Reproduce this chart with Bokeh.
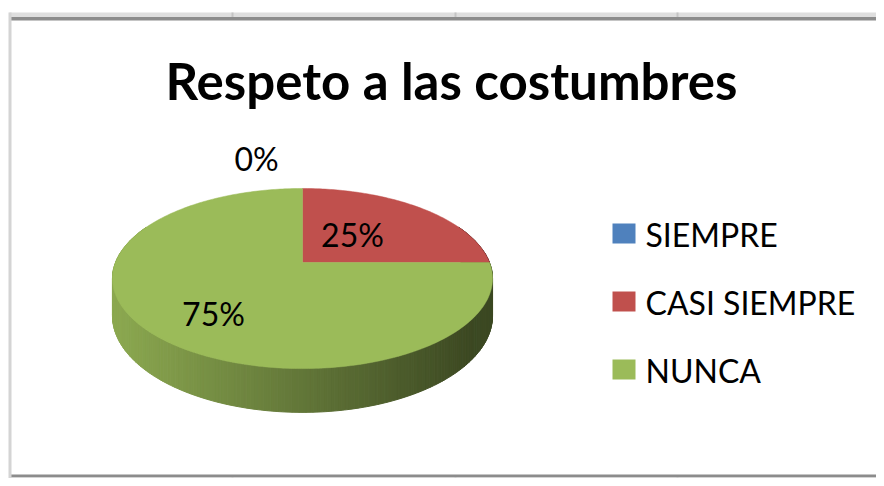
import numpy as np
from bokeh.plotting import figure
from bokeh.models import Range1d
from bokeh.core.properties import value
from bokeh.embed import file_html
from bokeh.resources import INLINE

# ---- data ----
title_text = "Respeto a las costumbres"
categories = ["SIEMPRE", "CASI SIEMPRE", "NUNCA"]
values = [0, 25, 75]
pct_labels = ["0%", "25%", "75%"]
colors = ["#4f81bd", "#c0504d", "#9bbb59"]

# ---- layout (pixel-like data coordinates) ----
W, H = 876, 478
p = figure(width=W, height=H, x_range=Range1d(0, W), y_range=Range1d(H, 0),
           output_backend="svg", toolbar_location=None, min_border=0,
           x_axis_location=None, y_axis_location=None)
p.grid.visible = False
p.outline_line_color = None
p.background_fill_color = "white"
p.border_fill_color = "white"

FONT = "Lato"
BASE_CORR = 0.37  # baseline correction (fraction of font size)

# spreadsheet-like frame
p.quad(left=[9], right=[W], top=[12], bottom=[16.5], fill_color="#dedede", line_color=None)
p.quad(left=[9], right=[W], top=[16.5], bottom=[20], fill_color="#8c8c8c", line_color=None)
p.quad(left=[9], right=[W], top=[474], bottom=[477], fill_color="#8c8c8c", line_color=None)
p.quad(left=[9], right=[W], top=[477], bottom=[H], fill_color="#e4e4e4", line_color=None)
p.quad(left=[8], right=[11], top=[12], bottom=[H], fill_color="#d4d4d4", line_color=None)
cols = [232, 455, 677]
p.quad(left=[c - 1 for c in cols], right=[c + 1 for c in cols], top=[12] * 3, bottom=[16.5] * 3,
       fill_color="#c4c4c4", line_color=None)
p.quad(left=[c - 1 for c in cols], right=[c + 1 for c in cols], top=[477] * 3, bottom=[H] * 3,
       fill_color="#c4c4c4", line_color=None)

# ---- 3D pie projection ----
CX, CY = 302.0, 262.0
B, A, K, D = 187.0, 87.2, 0.178, 36.0


def proj(u, v, drop=0.0):
    s = 1.0 / (1.0 - K * v)
    return CX + B * u * s, CY + A * v * s + D * drop * s


total = float(sum(values))
fracs = [v / total for v in values]
cum = np.concatenate([[0.0], np.cumsum(fracs)])


def slice_of(phi):
    f = (phi % (2 * np.pi)) / (2 * np.pi)
    for i in range(len(values)):
        if cum[i] <= f < cum[i + 1] and values[i] > 0:
            return i
    return len(values) - 1


def hex2rgb(h):
    h = h.lstrip("#")
    return [int(h[i:i + 2], 16) for i in (0, 2, 4)]


def rgb2hex(c):
    return "#%02x%02x%02x" % tuple(int(max(0, min(255, round(x)))) for x in c)


# side strips
ts = np.linspace(-0.45, np.pi + 0.45, 261)
sx, sy, sc = [], [], []
for t0, t1 in zip(ts[:-1], ts[1:]):
    u0, v0 = np.cos(t0), np.sin(t0)
    u1, v1 = np.cos(t1), np.sin(t1)
    a0 = proj(u0, v0)
    a1 = proj(u1, v1)
    b1 = proj(u1, v1, 1.0)
    b0 = proj(u0, v0, 1.0)
    sx.append([a0[0], a1[0], b1[0], b0[0]])
    sy.append([a0[1], a1[1], b1[1], b0[1]])
    tm = 0.5 * (t0 + t1)
    phi = tm + np.pi / 2  # clockwise angle from 12 o'clock
    base = hex2rgb(colors[slice_of(phi)])
    xm = 0.5 * (a0[0] + a1[0])
    fr = min(1.0, max(0.0, (xm - 115.0) / (470.0 - 115.0)))
    shade = 0.90 - 0.51 * fr
    sc.append(rgb2hex([c * shade for c in base]))
p.patches(xs=sx, ys=sy, fill_color=sc, line_color=sc, line_width=1)

# top face wedges
wx, wy, wc = [], [], []
for i, fr in enumerate(fracs):
    if fr <= 0:
        continue
    a0, a1 = cum[i] * 2 * np.pi, cum[i + 1] * 2 * np.pi
    n = max(4, int(400 * fr))
    phis = np.linspace(a0, a1, n)
    xs = [CX]
    ys = [CY]
    for ph in phis:
        x, y = proj(np.sin(ph), -np.cos(ph))
        xs.append(x)
        ys.append(y)
    wx.append(xs)
    wy.append(ys)
    wc.append(colors[i])
p.patches(xs=wx, ys=wy, fill_color=wc, line_color=wc, line_width=0.5)

# ---- data labels (layout offsets relative to pie centre) ----
LFS = 32
lab_dx = [-46, 50, -89]
lab_dy = [-92, -16, 63]
p.text(x=[CX + d for d in lab_dx], y=[CY + d - BASE_CORR * LFS for d in lab_dy], text=pct_labels,
       text_font=value(FONT), text_font_size=f"{LFS}px", text_color="black",
       text_align="center", text_baseline="alphabetic")

# ---- title ----
TFS = 51
p.text(x=[451], y=[99 - BASE_CORR * TFS], text=[title_text], text_font=value(FONT),
       text_font_size=f"{TFS}px", text_font_style="bold", text_color="black",
       text_align="center", text_baseline="alphabetic")

# ---- legend ----
leg_top0, leg_step = 223.0, 68.0
p.quad(left=[612] * 3, right=[635] * 3,
       top=[leg_top0 + i * leg_step for i in range(3)],
       bottom=[leg_top0 + 20 + i * leg_step for i in range(3)],
       fill_color=colors, line_color=None)
p.text(x=[645] * 3, y=[leg_top0 + 23 + i * leg_step - BASE_CORR * LFS for i in range(3)],
       text=categories, text_font=value(FONT), text_font_size=f"{LFS}px", text_color="black",
       text_align="left", text_baseline="alphabetic")

open("out.html", "w").write(file_html(p, INLINE))
